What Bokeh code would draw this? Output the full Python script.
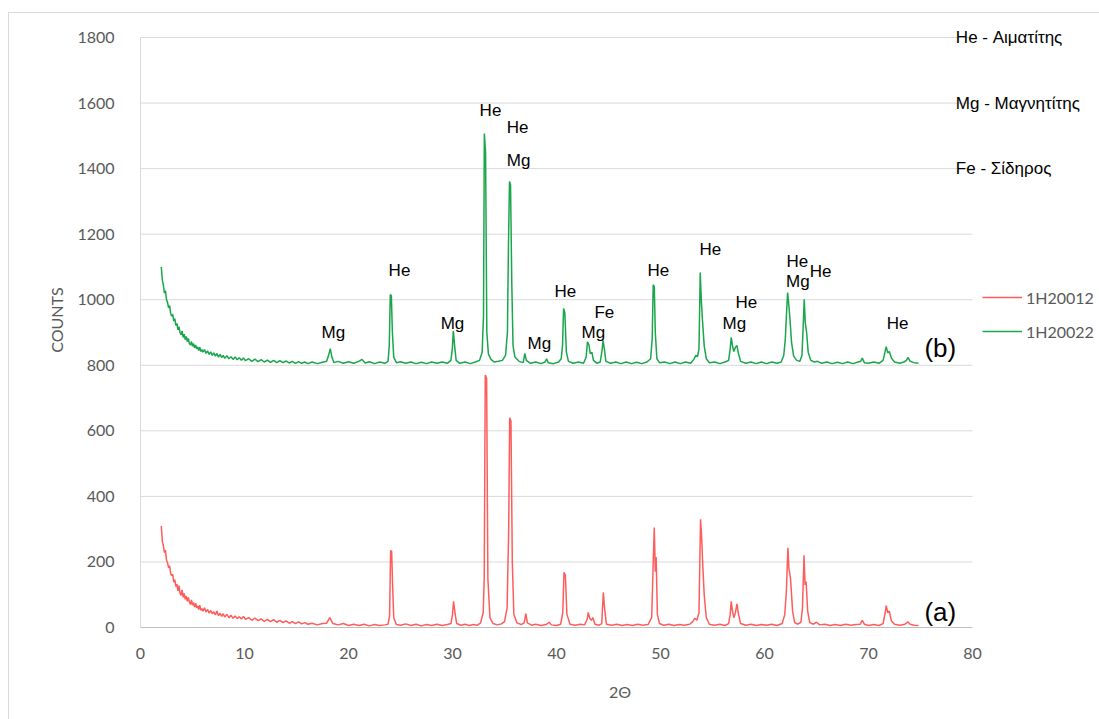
from bokeh.plotting import figure
from bokeh.models import (ColumnDataSource, Label, Legend, LegendItem,
                          FixedTicker, InlineStyleSheet)
from bokeh.embed import file_html
from bokeh.resources import INLINE

# --- XRD patterns (2θ in degrees, counts) -----------------------------------
# Sample 1H20012 (a)
pattern_a = [
    (2.0, 310), (2.1, 262), (2.2, 250), (2.3, 228), (2.4, 236), (2.5, 205),
    (2.6, 198), (2.7, 182), (2.8, 188), (2.9, 165), (3.0, 158), (3.1, 162),
    (3.2, 138), (3.3, 146), (3.4, 125), (3.5, 132), (3.6, 112), (3.7, 128),
    (3.8, 105), (3.9, 98), (4.0, 115), (4.1, 92), (4.2, 104), (4.3, 86),
    (4.4, 96), (4.5, 80), (4.6, 92), (4.7, 78), (4.8, 70), (4.9, 84),
    (5.0, 68), (5.1, 76), (5.2, 62), (5.3, 74), (5.4, 60), (5.5, 66),
    (5.6, 55), (5.7, 68), (5.8, 52), (5.9, 58), (6.0, 50), (6.15, 60),
    (6.3, 47), (6.45, 55), (6.6, 44), (6.75, 52), (6.9, 42), (7.05, 48),
    (7.2, 38), (7.35, 50), (7.5, 36), (7.65, 43), (7.8, 34), (7.95, 42),
    (8.1, 32), (8.3, 40), (8.5, 30), (8.7, 37), (8.9, 28), (9.1, 35),
    (9.3, 27), (9.5, 33), (9.7, 26), (9.9, 34), (10.1, 25), (10.4, 30),
    (10.7, 22), (11.0, 29), (11.3, 21), (11.6, 26), (11.9, 19), (12.2, 25),
    (12.5, 18), (12.8, 24), (13.1, 16), (13.4, 22), (13.7, 15), (14.0, 20),
    (14.3, 13), (14.6, 18), (14.9, 12), (15.2, 17), (15.5, 11), (15.8, 15),
    (16.1, 10), (16.5, 13), (17.0, 8), (17.5, 12), (17.9, 13), (18.2, 30),
    (18.5, 12), (19.0, 8), (19.5, 12), (20.0, 6),
    (20.5, 10), (21.0, 6), (21.5, 10), (22.0, 5), (22.5, 9), (23.0, 6),
    (23.5, 8), (23.8, 10), (23.95, 35), (24.05, 235), (24.15, 232),
    (24.25, 120), (24.35, 30), (24.6, 9), (25.0, 7), (25.5, 11), (26.0, 6),
    (26.5, 10), (27.0, 5), (27.5, 9), (28.0, 6), (28.5, 10), (29.0, 6),
    (29.5, 9), (29.85, 12), (30.0, 40), (30.1, 80), (30.25, 42), (30.4, 12),
    (30.8, 7), (31.2, 10), (31.6, 6), (32.0, 9), (32.4, 7), (32.7, 14),
    (32.95, 45), (33.05, 150), (33.15, 770), (33.28, 760), (33.4, 150),
    (33.6, 30), (33.9, 12), (34.3, 8), (34.7, 11), (35.0, 18), (35.25, 60),
    (35.4, 296), (35.5, 640), (35.62, 630), (35.75, 200), (35.9, 40),
    (36.2, 14), (36.6, 9), (36.9, 14), (37.05, 42), (37.2, 14), (37.6, 7),
    (38.0, 10), (38.5, 6), (39.0, 9), (39.3, 16), (39.5, 8), (40.0, 6),
    (40.4, 10), (40.6, 45), (40.72, 168), (40.85, 160), (41.0, 40),
    (41.3, 10), (41.8, 7), (42.3, 10), (42.7, 8), (42.95, 25), (43.05, 46),
    (43.2, 28), (43.35, 22), (43.5, 30), (43.7, 10), (44.1, 7), (44.35, 12),
    (44.5, 107), (44.62, 60), (44.8, 10), (45.3, 7), (45.8, 10), (46.3, 6),
    (46.8, 9), (47.3, 6), (47.8, 10), (48.3, 7), (48.8, 9), (49.15, 30),
    (49.3, 200), (49.4, 305), (49.5, 170), (49.58, 215), (49.7, 40),
    (49.9, 12), (50.3, 7), (50.8, 10), (51.3, 6), (51.8, 9), (52.3, 7),
    (52.8, 10), (53.1, 18), (53.3, 28), (53.5, 22), (53.7, 45), (53.85, 330),
    (53.95, 280), (54.05, 200), (54.2, 100), (54.4, 30), (54.7, 10),
    (55.2, 7), (55.7, 10), (56.2, 6), (56.55, 12), (56.7, 40), (56.8, 80),
    (56.92, 50), (57.05, 30), (57.2, 45), (57.35, 72), (57.5, 40),
    (57.7, 12), (58.2, 7), (58.7, 10), (59.2, 6), (59.7, 9), (60.2, 7),
    (60.7, 10), (61.2, 6), (61.7, 12), (61.95, 40), (62.1, 110),
    (62.25, 243), (62.35, 180), (62.5, 150), (62.7, 50), (62.9, 15),
    (63.2, 10), (63.5, 16), (63.65, 60), (63.8, 220), (63.9, 130),
    (64.0, 140), (64.15, 50), (64.35, 15), (64.7, 10), (65.0, 16), (65.3, 8),
    (65.8, 10), (66.3, 6), (66.8, 9), (67.3, 6), (67.8, 10), (68.3, 7),
    (68.8, 9), (69.2, 10), (69.4, 22), (69.6, 10), (70.0, 6), (70.5, 9),
    (71.0, 6), (71.4, 12), (71.6, 45), (71.7, 67), (71.85, 45), (72.0, 50),
    (72.2, 20), (72.5, 10), (73.0, 7), (73.5, 10), (73.8, 17), (74.0, 10),
    (74.4, 7), (74.8, 6),
]

# Sample 1H20022 (b), plotted 800 counts higher
pattern_b = [
    (2.0, 1100), (2.1, 1060), (2.2, 1045), (2.3, 1020), (2.4, 1028),
    (2.5, 1000), (2.6, 992), (2.7, 975), (2.8, 982), (2.9, 958), (3.0, 950),
    (3.1, 955), (3.2, 935), (3.3, 942), (3.4, 922), (3.5, 928), (3.6, 908),
    (3.7, 918), (3.8, 900), (3.9, 893), (4.0, 905), (4.1, 885), (4.2, 895),
    (4.3, 878), (4.4, 888), (4.5, 872), (4.6, 882), (4.7, 866), (4.8, 862),
    (4.9, 873), (5.0, 858), (5.1, 866), (5.2, 853), (5.3, 862), (5.4, 850),
    (5.5, 856), (5.6, 845), (5.7, 855), (5.8, 842), (5.9, 848), (6.0, 840),
    (6.15, 848), (6.3, 836), (6.45, 844), (6.6, 833), (6.75, 841),
    (6.9, 830), (7.05, 838), (7.2, 828), (7.35, 836), (7.5, 825),
    (7.65, 833), (7.8, 824), (7.95, 830), (8.1, 821), (8.3, 829),
    (8.5, 820), (8.7, 826), (8.9, 818), (9.1, 825), (9.3, 817), (9.5, 823),
    (9.7, 815), (9.9, 822), (10.1, 814), (10.4, 820), (10.7, 812),
    (11.0, 819), (11.3, 811), (11.6, 817), (11.9, 810), (12.2, 816),
    (12.5, 809), (12.8, 815), (13.1, 808), (13.4, 814), (13.7, 808),
    (14.0, 813), (14.3, 807), (14.6, 812), (14.9, 806), (15.2, 811),
    (15.5, 806), (15.8, 810), (16.1, 805), (16.5, 810), (17.0, 805),
    (17.5, 809), (17.9, 812),
    (18.1, 832), (18.25, 851), (18.4, 825), (18.6, 808), (19.0, 812),
    (19.5, 806), (20.0, 811), (20.5, 806), (21.0, 812), (21.3, 818),
    (21.6, 807), (22.0, 811), (22.5, 805), (23.0, 810), (23.5, 806),
    (23.8, 812), (23.92, 860), (24.02, 1016), (24.12, 1012), (24.22, 900),
    (24.35, 825), (24.6, 808), (25.0, 811), (25.5, 806), (26.0, 810),
    (26.5, 805), (27.0, 809), (27.5, 805), (28.0, 810), (28.5, 806),
    (29.0, 810), (29.5, 806), (29.85, 815), (29.98, 850), (30.08, 905),
    (30.2, 860), (30.35, 815), (30.7, 806), (31.2, 810), (31.7, 805),
    (32.2, 810), (32.6, 815), (32.85, 840), (32.98, 950), (33.06, 1507),
    (33.18, 1450), (33.3, 900), (33.45, 835), (33.7, 818), (34.0, 810),
    (34.4, 812), (34.8, 815), (35.1, 830), (35.28, 900), (35.38, 1165),
    (35.48, 1361), (35.58, 1350), (35.7, 1050), (35.82, 860), (36.0, 825),
    (36.4, 812), (36.8, 808), (36.95, 836), (37.1, 815), (37.5, 806),
    (38.0, 810), (38.5, 805), (38.9, 810), (39.05, 820), (39.2, 808),
    (39.7, 805), (40.2, 810), (40.45, 820), (40.58, 860), (40.68, 973),
    (40.8, 960), (40.95, 840), (41.15, 812), (41.6, 806), (42.1, 810),
    (42.6, 806), (42.85, 825), (42.98, 872), (43.12, 862), (43.25, 835),
    (43.4, 840), (43.55, 815), (43.9, 806), (44.2, 810), (44.38, 845),
    (44.48, 875), (44.6, 850), (44.75, 812), (45.2, 806), (45.7, 810),
    (46.2, 805), (46.7, 810), (47.2, 805), (47.7, 809), (48.2, 805),
    (48.7, 810), (49.05, 820), (49.2, 880), (49.3, 1046), (49.4, 1040),
    (49.5, 900), (49.65, 820), (49.9, 808), (50.4, 810), (50.9, 805),
    (51.4, 810), (51.9, 805), (52.4, 810), (52.9, 806), (53.2, 818),
    (53.4, 830), (53.55, 826), (53.7, 850), (53.82, 1083), (53.92, 1000),
    (54.05, 930), (54.2, 860), (54.4, 820), (54.7, 808), (55.2, 810),
    (55.7, 805), (56.2, 810), (56.55, 815), (56.7, 850), (56.8, 885),
    (56.92, 860), (57.05, 842), (57.2, 855), (57.35, 860), (57.5, 835),
    (57.7, 812), (58.2, 806), (58.7, 810), (59.2, 805), (59.7, 810),
    (60.2, 805), (60.7, 810), (61.2, 806), (61.6, 810), (61.85, 830),
    (62.0, 880), (62.12, 960), (62.22, 1022), (62.32, 990), (62.45, 940),
    (62.6, 870), (62.8, 828), (63.1, 815), (63.4, 812), (63.6, 830),
    (63.72, 920), (63.82, 1001), (63.92, 930), (64.05, 900), (64.2, 840),
    (64.45, 815), (64.8, 810), (65.1, 812), (65.5, 806), (66.0, 810),
    (66.5, 805), (67.0, 809), (67.5, 805), (68.0, 810), (68.5, 805),
    (69.0, 810), (69.25, 812), (69.4, 822), (69.6, 808), (70.0, 806),
    (70.5, 810), (71.0, 806), (71.4, 815), (71.58, 840), (71.7, 857),
    (71.85, 838), (72.0, 842), (72.2, 822), (72.5, 810), (73.0, 806),
    (73.4, 810), (73.65, 815), (73.8, 824), (74.0, 812), (74.4, 808),
    (74.8, 806),
]

series_names = ["1H20012", "1H20022"]
series_colors = ["#ff5c5c", "#1aa64c"]

x_ticks = [0, 10, 20, 30, 40, 50, 60, 70, 80]
y_ticks = [0, 200, 400, 600, 800, 1000, 1200, 1400, 1600, 1800]

# Phase labels above the peaks of pattern (b)
peak_text = ["Mg", "He", "Mg", "He", "He", "Mg", "Mg", "He", "Fe", "Mg",
             "He", "He", "He", "Mg", "He", "Mg", "He", "He"]
peak_x = [18.55, 24.9, 30.0, 33.65, 36.25, 36.35, 38.35, 40.85, 44.6, 43.55,
          49.8, 54.8, 58.25, 57.1, 63.15, 63.2, 65.4, 72.8]
peak_y = [900, 1089, 927, 1577, 1525, 1425, 866, 1025, 961, 900,
          1089, 1153, 992, 927, 1117, 1056, 1086, 927]

phase_key = ["He - Αιματίτης", "Mg - Μαγνητίτης", "Fe - Σίδηρος"]
phase_key_y = [1800, 1600, 1400]

sample_tags = ["(a)", "(b)"]
sample_tag_y = [46, 854]

X_MAX, Y_MAX = 80, 1800
TICK_FONT = "Lato"
LABEL_FONT = "Liberation Sans"
GREY = "#595959"
GRID = "#d9d9d9"

# The frame reaches the right edge of the canvas so the key texts and the
# legend beside the 0-80 data area are not clipped; gridlines stop at 80.
p = figure(width=1099, height=719, x_range=(0, 92.21), y_range=(0, 1876.3),
           output_backend="svg", toolbar_location=None,
           min_border_left=140, min_border_right=0,
           min_border_top=12, min_border_bottom=92)
p.outline_line_color = None
p.background_fill_color = "white"
p.border_fill_color = "white"
p.stylesheets = [InlineStyleSheet(css="""
:host { position: relative; }
:host::after {
  content: ""; position: absolute; left: 8px; top: 12px;
  right: -3px; bottom: -3px; border: 1px solid #d9d9d9;
  pointer-events: none;
}
""")]

# horizontal gridlines over the data area only
p.segment(x0=[0] * (len(y_ticks) - 1), x1=[X_MAX] * (len(y_ticks) - 1),
          y0=y_ticks[1:], y1=y_ticks[1:], line_color=GRID, line_width=1)

renderers = []
for pattern, color in zip([pattern_a, pattern_b], series_colors):
    src = ColumnDataSource(dict(x=[pt[0] for pt in pattern],
                                y=[pt[1] for pt in pattern]))
    renderers.append(p.line("x", "y", source=src, line_color=color,
                            line_width=1.5))

# axes
p.xaxis.ticker = FixedTicker(ticks=x_ticks)
p.yaxis.ticker = FixedTicker(ticks=y_ticks)
p.xaxis.bounds = (0, X_MAX)
p.yaxis.bounds = (0, Y_MAX)
for ax in (p.xaxis[0], p.yaxis[0]):
    ax.major_tick_line_color = None
    ax.minor_tick_line_color = None
    ax.major_label_text_font = TICK_FONT
    ax.major_label_text_font_size = "16px"
    ax.major_label_text_color = GREY
    ax.axis_label_text_font = TICK_FONT
    ax.axis_label_text_font_size = "16px"
    ax.axis_label_text_font_style = "normal"
    ax.axis_label_text_color = GREY
p.yaxis.axis_line_color = GRID
p.xaxis.axis_line_color = "#bfbfbf"
p.yaxis.major_label_standoff = 20
p.xaxis.major_label_standoff = 14
p.yaxis.axis_label = "COUNTS"
p.xaxis.axis_label = "2Θ"
p.yaxis.axis_label_standoff = 8
p.xaxis.axis_label_standoff = 20

p.xgrid.grid_line_color = None
p.ygrid.grid_line_color = None

# peak labels
for t, x, y in zip(peak_text, peak_x, peak_y):
    p.add_layout(Label(x=x, y=y, text=t, text_align="center",
                       text_baseline="middle", text_font=LABEL_FONT,
                       text_font_size="17px", text_color="black"))

# phase key, to the right of the data area
for t, y in zip(phase_key, phase_key_y):
    p.add_layout(Label(x=78.4, y=y, text=t, text_align="left",
                       text_baseline="middle", text_font=LABEL_FONT,
                       text_font_size="17px", text_color="black"))

for t, y in zip(sample_tags, sample_tag_y):
    p.add_layout(Label(x=76.9, y=y, text=t, text_align="center",
                       text_baseline="middle", text_font=LABEL_FONT,
                       text_font_size="26px", text_color="black"))

legend = Legend(items=[LegendItem(label=n, renderers=[r])
                       for n, r in zip(series_names, renderers)],
                location=(842, 286), orientation="vertical",
                glyph_width=40, glyph_height=20, label_height=20,
                label_standoff=4, spacing=14, padding=0, margin=0,
                border_line_color=None, background_fill_alpha=0,
                label_text_font=TICK_FONT, label_text_font_size="16px",
                label_text_color=GREY)
p.add_layout(legend, "center")

html = file_html(p, INLINE)
open("out.html", "w").write(html)
